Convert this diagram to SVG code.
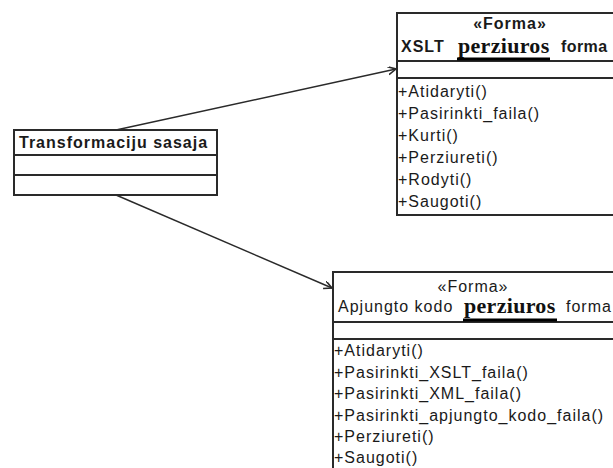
<svg xmlns="http://www.w3.org/2000/svg" width="613" height="468" viewBox="0 0 613 468">
  <style>
    .box { fill: #ffffff; stroke: #2a2a2a; stroke-width: 2; }
    .sep { stroke: #2a2a2a; stroke-width: 2; }
    .t { font-family: "Liberation Sans", Arial, sans-serif; font-size: 16px; letter-spacing: 1px; fill: #1a1a1a; }
    .b { font-weight: bold; }
    .mid { text-anchor: middle; }
    .serif { font-family: "Liberation Serif", "Times New Roman", serif; font-size: 22px; font-weight: bold; letter-spacing: 0.3px; fill: #111111; }
    .ul { stroke: #000000; stroke-width: 3; }
    .link { stroke: #2a2a2a; stroke-width: 1.4; fill: none; marker-end: url(#open); }
  </style>
  <defs>
    <marker id="open" markerWidth="10" markerHeight="10" refX="8" refY="4" orient="auto" markerUnits="userSpaceOnUse">
      <path d="M0,0 L8,4 L0,8" fill="none" stroke="#2a2a2a" stroke-width="1.6"/>
    </marker>
  </defs>

  <rect width="613" height="468" fill="#ffffff"/>

  <!-- associations -->
  <g id="connectors">
    <line class="link" x1="116" y1="130" x2="396" y2="69"/>
    <line class="link" x1="116" y1="195" x2="332" y2="288"/>
  </g>

  <!-- interface class -->
  <g id="transformaciju-sasaja">
    <rect class="box" x="14" y="130" width="203" height="65"/>
    <line class="sep" x1="14" y1="155" x2="217" y2="155"/>
    <line class="sep" x1="14" y1="175" x2="217" y2="175"/>
    <text class="t b" x="19" y="148">Transformaciju sasaja</text>
  </g>

  <!-- XSLT preview form -->
  <g id="xslt-perziuros-forma">
    <rect class="box" x="397" y="13" width="230" height="202"/>
    <line class="sep" x1="397" y1="61" x2="627" y2="61"/>
    <line class="sep" x1="397" y1="78" x2="627" y2="78"/>
    <text class="t b mid" x="510" y="29">«Forma»</text>
    <text class="t b" x="401" y="52">XSLT</text>
    <text class="serif" x="458" y="53">perziuros</text>
    <line class="ul" x1="457" y1="59" x2="550" y2="59"/>
    <text class="t b" x="561" y="52" style="letter-spacing:0.4px">forma</text>
    <text class="t" x="398" y="97">+Atidaryti()</text>
    <text class="t" x="398" y="119">+Pasirinkti_faila()</text>
    <text class="t" x="398" y="141">+Kurti()</text>
    <text class="t" x="398" y="163">+Perziureti()</text>
    <text class="t" x="398" y="185">+Rodyti()</text>
    <text class="t" x="398" y="207">+Saugoti()</text>
  </g>

  <!-- merged code preview form -->
  <g id="apjungto-kodo-perziuros-forma">
    <rect class="box" x="333" y="272" width="300" height="210"/>
    <line class="sep" x1="333" y1="322" x2="633" y2="322"/>
    <line class="sep" x1="333" y1="339" x2="633" y2="339"/>
    <text class="t mid" x="473" y="292">«Forma»</text>
    <text class="t" x="338" y="312">Apjungto kodo</text>
    <text class="serif" x="464" y="313">perziuros</text>
    <line class="ul" x1="463" y1="320" x2="557" y2="320"/>
    <text class="t" x="566" y="312">forma</text>
    <text class="t" x="334" y="356">+Atidaryti()</text>
    <text class="t" x="334" y="378">+Pasirinkti_XSLT_faila()</text>
    <text class="t" x="334" y="399">+Pasirinkti_XML_faila()</text>
    <text class="t" x="334" y="421">+Pasirinkti_apjungto_kodo_faila()</text>
    <text class="t" x="334" y="442">+Perziureti()</text>
    <text class="t" x="334" y="463">+Saugoti()</text>
  </g>
</svg>
